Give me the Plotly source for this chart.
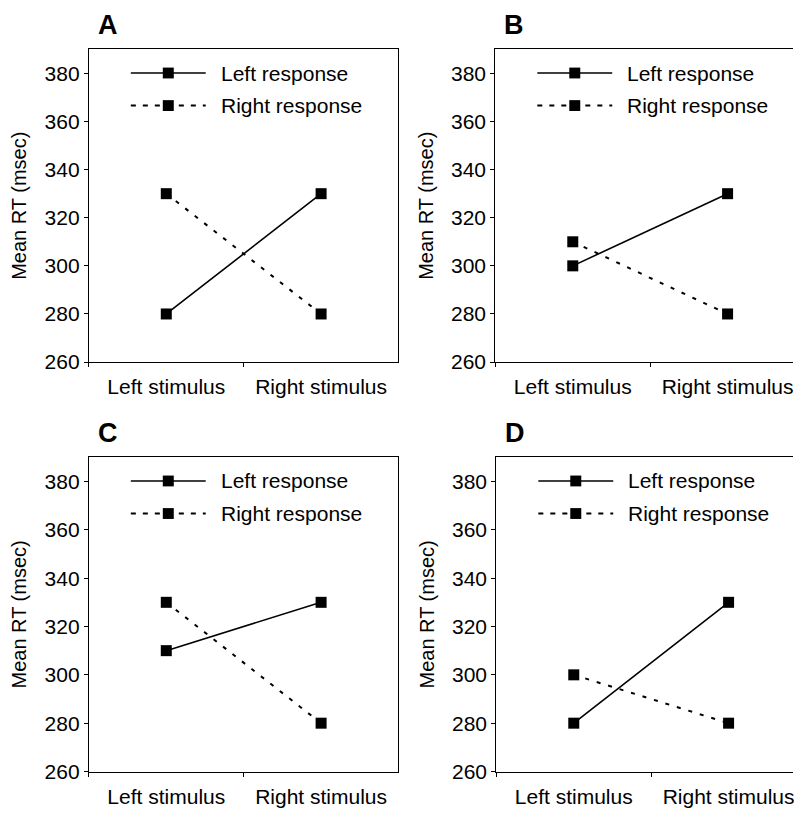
import plotly.graph_objects as go

# ---- data ----
stimuli = ["Left stimulus", "Right stimulus"]
series_names = ["Left response", "Right response"]
panel_labels = ["A", "B", "C", "D"]
left_resp_A = [280, 330]
right_resp_A = [330, 280]
left_resp_B = [300, 330]
right_resp_B = [310, 280]
left_resp_C = [310, 330]
right_resp_C = [330, 280]
left_resp_D = [280, 330]
right_resp_D = [300, 280]
y_ticks = [260, 280, 300, 320, 340, 360, 380]

panels_data = [
    (left_resp_A, right_resp_A),
    (left_resp_B, right_resp_B),
    (left_resp_C, right_resp_C),
    (left_resp_D, right_resp_D),
]

W, H = 794, 821
FONT = "Liberation Sans, Arial, Helvetica, sans-serif"


def px(x):
    return x / W


def py(y):
    return 1 - y / H


# panel boxes in pixels: (left, right, top, bottom)
boxes = [
    (89, 399, 50, 367),
    (496, 794, 50, 367),
    (89, 399, 463.5, 782),
    (497, 794, 463.5, 782),
]
full_w = 310.0

fig = go.Figure()
shapes = []
annotations = []
DASH = "4px,8px"

for i, ((lr, rr), (L, R, T, B)) in enumerate(zip(panels_data, boxes)):
    n = "" if i == 0 else str(i + 1)
    xa, ya = "x" + n, "y" + n
    fig.add_trace(go.Scatter(x=stimuli, y=lr, mode="lines+markers", name=series_names[0],
                             xaxis=xa, yaxis=ya, showlegend=False, cliponaxis=False,
                             line=dict(color="black", width=1.6),
                             marker=dict(symbol="square", size=11, color="black")))
    fig.add_trace(go.Scatter(x=stimuli, y=rr, mode="lines+markers", name=series_names[1],
                             xaxis=xa, yaxis=ya, showlegend=False, cliponaxis=False,
                             line=dict(color="black", width=2, dash=DASH),
                             marker=dict(symbol="square", size=11, color="black")))
    clipped = (R - L) < full_w - 1
    xmax = -0.5 + 2.0 * (R - L) / full_w
    fig.layout["xaxis" + n] = dict(
        domain=[px(L), px(R)], anchor=ya, type="category",
        categoryorder="array", categoryarray=stimuli,
        range=[-0.5, xmax], showline=True, linecolor="black", linewidth=1.2,
        mirror=True, ticks="outside", ticklen=4, tickcolor="black", tickwidth=1.2,
        tickson="boundaries", showgrid=False, zeroline=False,
        tickfont=dict(family=FONT, size=21, color="black"), ticklabelstandoff=6,
    )
    fig.layout["yaxis" + n] = dict(
        domain=[py(B), py(T)], anchor=xa, range=[260, 390], tickvals=y_ticks,
        showline=True, linecolor="black", linewidth=1.2, mirror=not clipped,
        ticks="outside", ticklen=4, tickcolor="black", tickwidth=1.2,
        showgrid=False, zeroline=False,
        tickfont=dict(family=FONT, size=21, color="black"),
        title=dict(text="Mean RT (msec)", font=dict(family=FONT, size=20, color="black"), standoff=12),
    )
    # panel label
    annotations.append(dict(text="<b>%s</b>" % panel_labels[i], x=px(L + 19), y=py(T - 25),
                            xref="paper", yref="paper", showarrow=False,
                            font=dict(family=FONT, size=27, color="black"),
                            xanchor="center", yanchor="middle"))
    # legend
    for k, (dy, dash) in enumerate([(24, "solid"), (57, "5px,7px")]):
        yy = py(T + dy)
        shapes.append(dict(type="line", xref="paper", yref="paper",
                           x0=px(L + 42), x1=px(L + 117), y0=yy, y1=yy,
                           line=dict(color="black", width=1.6 if k == 0 else 2, dash=dash)))
        shapes.append(dict(type="rect", xref="paper", yref="paper",
                           x0=px(L + 79.5 - 5.5), x1=px(L + 79.5 + 5.5),
                           y0=py(T + dy + 5.5), y1=py(T + dy - 5.5),
                           fillcolor="black", line=dict(width=0)))
        annotations.append(dict(text=series_names[k], x=px(L + 130), y=yy,
                                xref="paper", yref="paper", showarrow=False,
                                xanchor="left", yanchor="middle",
                                font=dict(family=FONT, size=21, color="black")))

fig.update_layout(
    width=W, height=H, margin=dict(l=0, r=0, t=0, b=0),
    paper_bgcolor="white", plot_bgcolor="white",
    shapes=shapes, annotations=annotations, showlegend=False,
)

fig.write_html("out.html", config={"displayModeBar": False},
               post_script="document.body.style.margin='0';document.body.style.overflow='hidden';")
